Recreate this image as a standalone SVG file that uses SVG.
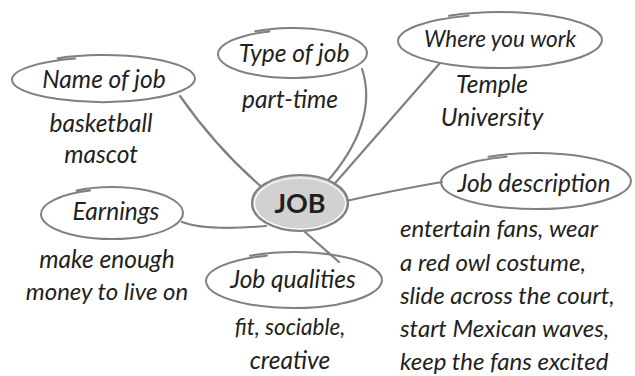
<svg xmlns="http://www.w3.org/2000/svg" width="635" height="376" viewBox="0 0 635 376">
  <style>
    .bubble { fill: none; stroke: #808080; stroke-width: 2; stroke-linecap: round; stroke-linejoin: round; }
    .link { fill: none; stroke: #808080; stroke-width: 2.2; stroke-linecap: round; }
    .label { font-family: "Lato", "Open Sans", sans-serif; font-style: italic; font-size: 24.5px; fill: #231f20; text-anchor: middle; }
    .note { font-family: "Lato", "Open Sans", sans-serif; font-style: italic; font-size: 24px; fill: #231f20; }
    .hub { font-family: "Lato", "Open Sans", sans-serif; font-weight: bold; font-size: 27px; fill: #231f20; text-anchor: middle; }
  </style>
  <rect width="635" height="376" fill="#ffffff"/>

  <!-- connectors from the hub to each topic -->
  <g id="connectors">
    <path class="link" d="M180,96 Q218,150 264,189"/>
    <path class="link" d="M362,69 C374,105 360,145 325,184"/>
    <path class="link" d="M440,63 L330,189"/>
    <path class="link" d="M346,201 Q395,190 442,182"/>
    <path class="link" d="M182,222 Q205,231 266,226"/>
    <path class="link" d="M305,232 L339,262"/>
  </g>

  <!-- centre hub -->
  <g id="hub">
    <ellipse cx="300" cy="203" rx="48" ry="28" fill="#d1d1d1" stroke="#808080" stroke-width="2.2"/>
    <ellipse cx="300" cy="203.5" rx="45.5" ry="25.5" fill="none" stroke="#ffffff" stroke-width="1.2"/>
    <text class="hub" x="300" y="213">JOB</text>
  </g>

  <!-- hand-drawn style bubbles: one loop whose tail slides in under its start -->
  <g id="name-of-job">
    <path class="bubble" d="M57.75,58.15 A91.5,23.5 0 0 1 195,78.5 A91.5,23.5 0 0 1 149.25,98.85 L149.25,99.01 A91.5,22.3 0 0 1 12,79.7 A91.5,22.3 0 0 1 75.23,58.49"/>
    <text class="label" x="104" y="88">Name of job</text>
    <text class="label" x="101" y="132">basketball</text>
    <text class="label" x="101" y="163">mascot</text>
  </g>

  <g id="type-of-job">
    <path class="bubble" d="M255.25,31.35 A74.5,25 0 0 1 367,53 A74.5,25 0 0 1 329.75,74.65 L329.75,74.81 A74.5,23.8 0 0 1 218,54.2 A74.5,23.8 0 0 1 269.48,31.56"/>
    <text class="label" x="294" y="62">Type of job</text>
    <text class="label" x="290" y="108">part-time</text>
  </g>

  <g id="where-you-work">
    <path class="bubble" d="M449,15.75 A102,28 0 0 1 602,40 A102,28 0 0 1 551,64.25 L551,64.41 A102,26.8 0 0 1 398,41.2 A102,26.8 0 0 1 468.48,15.71"/>
    <text class="label" x="500" y="47" style="font-size:22.5px">Where you work</text>
    <text class="label" x="492" y="93">Temple</text>
    <text class="label" x="492" y="126">University</text>
  </g>

  <g id="job-description">
    <path class="bubble" d="M488.5,156.75 A95,28 0 0 1 631,181 A95,28 0 0 1 583.5,205.25 L583.5,205.41 A95,26.8 0 0 1 441,182.2 A95,26.8 0 0 1 506.64,156.71"/>
    <text class="label" x="534" y="192">Job description</text>
    <text class="note" x="400" y="237">entertain fans, wear</text>
    <text class="note" x="400" y="271">a red owl costume,</text>
    <text class="note" x="400" y="304">slide across the court,</text>
    <text class="note" x="400" y="337">start Mexican waves,</text>
    <text class="note" x="400" y="370">keep the fans excited</text>
  </g>

  <g id="earnings">
    <path class="bubble" d="M76.5,190.48 A71,26 0 0 1 183,213 A71,26 0 0 1 147.5,235.52 L147.5,235.68 A71,24.8 0 0 1 41,214.2 A71,24.8 0 0 1 90.06,190.61"/>
    <text class="label" x="116" y="220">Earnings</text>
    <text class="label" x="107" y="268">make enough</text>
    <text class="label" x="107" y="300" style="font-size:24px">money to live on</text>
  </g>

  <g id="job-qualities">
    <path class="bubble" d="M250,255.75 A88,28 0 0 1 382,280 A88,28 0 0 1 338,304.25 L338,304.41 A88,26.8 0 0 1 206,281.2 A88,26.8 0 0 1 266.81,255.71"/>
    <text class="label" x="293" y="288">Job qualities</text>
    <text class="label" x="290" y="335" style="font-size:22.5px">fit, sociable,</text>
    <text class="label" x="290" y="369">creative</text>
  </g>
</svg>
